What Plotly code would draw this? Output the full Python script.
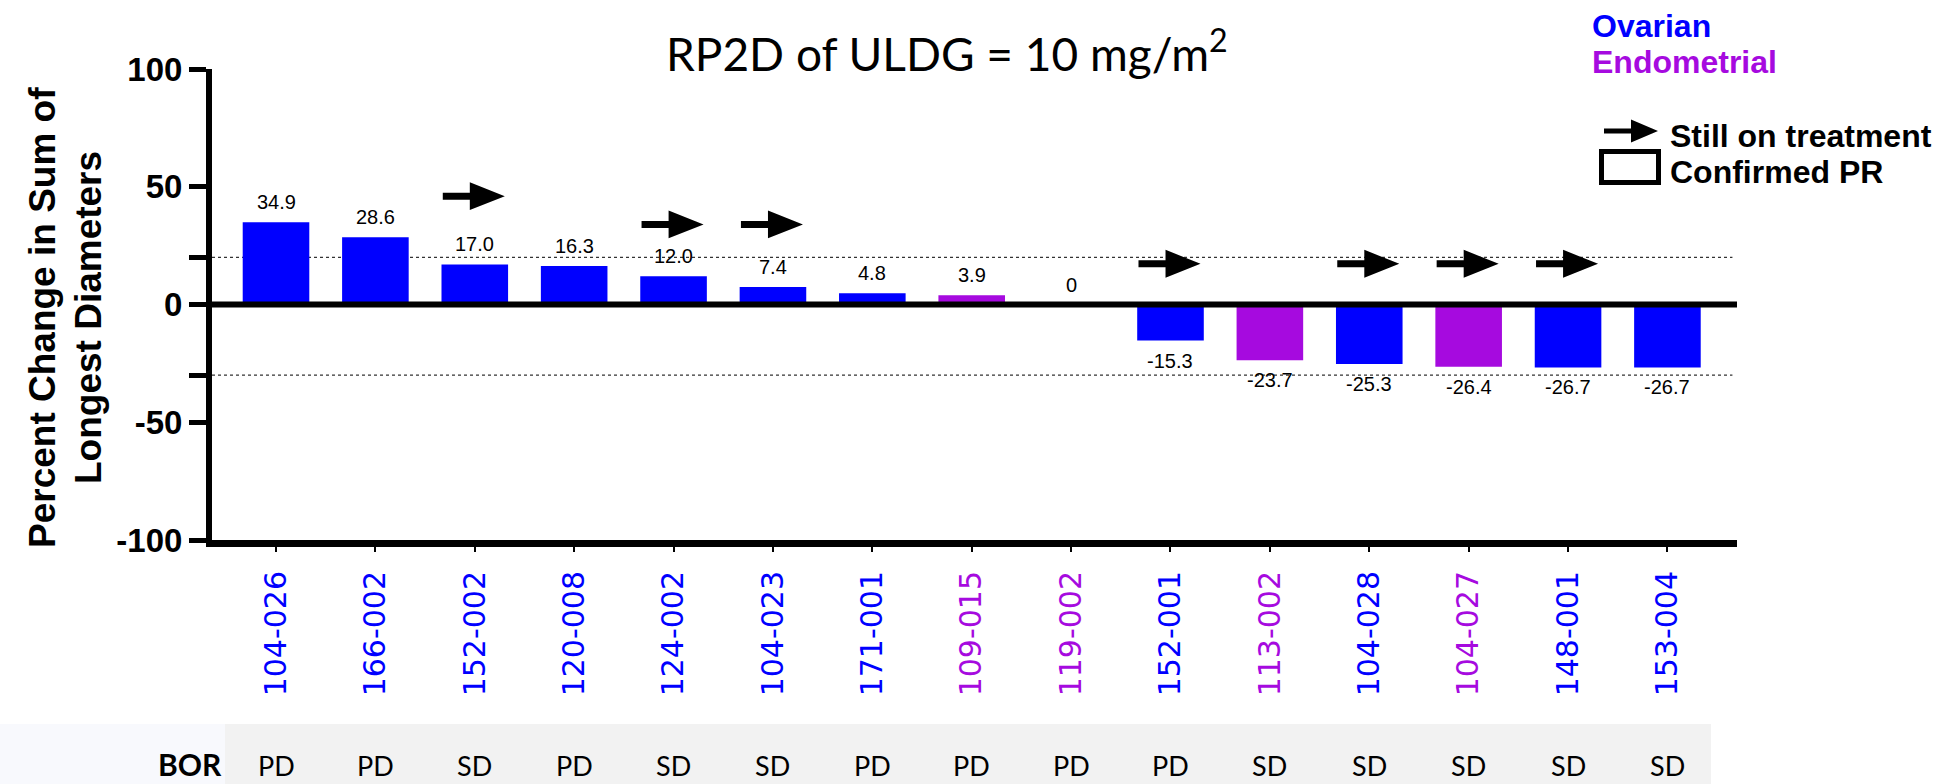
import plotly.graph_objects as go

# ---- data -------------------------------------------------------------
subjects = ["104-026", "166-002", "152-002", "120-008", "124-002", "104-023",
            "171-001", "109-015", "119-002", "152-001", "113-002", "104-028",
            "104-027", "148-001", "153-004"]
pct_change = [34.9, 28.6, 17.0, 16.3, 12.0, 7.4, 4.8, 3.9, 0,
              -15.3, -23.7, -25.3, -26.4, -26.7, -26.7]
tumor_type = ["Ovarian", "Ovarian", "Ovarian", "Ovarian", "Ovarian", "Ovarian",
              "Ovarian", "Endometrial", "Endometrial", "Ovarian", "Endometrial",
              "Ovarian", "Endometrial", "Ovarian", "Ovarian"]
bor = ["PD", "PD", "SD", "PD", "SD", "SD", "PD", "PD", "PD", "PD",
       "SD", "SD", "SD", "SD", "SD"]
# subjects still on treatment and the height at which their arrow sits
on_treatment = ["152-002", "124-002", "104-023", "152-001", "104-028", "104-027", "148-001"]
arrow_level = [46, 34, 34, 17.3, 17.3, 17.3, 17.3]
pd_threshold = 20
pr_threshold = -30
y_ticks = [100, 50, 0, -50, -100]
y_tick_text = ["100", "50", "0", "-50", "-100"]
y_minor_ticks = [pd_threshold, pr_threshold]

type_colors = {"Ovarian": "#0000FF", "Endometrial": "#A60ADF"}

# ---- page geometry ----------------------------------------------------
W, H = 1939, 784
L, R, T, B = 212, 1737, 69, 540
X_RANGE = [-0.644, 14.70]


def px_x(px):
    return (px - L) / (R - L)


def px_y(py):
    return (B - py) / (B - T)


idx = list(range(len(subjects)))
colors = [type_colors[t] for t in tumor_type]

fig = go.Figure()

fig.add_trace(go.Bar(
    x=idx, y=pct_change, width=0.67,
    marker=dict(color=colors, line=dict(width=0)),
    hoverinfo="skip",
))

# "still on treatment" arrows: shaft + triangular head, one polygon each
ax, ay = [], []
for sid, lvl in zip(on_treatment, arrow_level):
    i = subjects.index(sid)
    pts = [(-0.322, -1.5), (-0.05, -1.5), (-0.05, -5.9), (0.302, 0),
           (-0.05, 5.9), (-0.05, 1.5), (-0.322, 1.5), (-0.322, -1.5)]
    for dx, dy in pts:
        ax.append(i + dx)
        ay.append(lvl + dy)
    ax.append(None)
    ay.append(None)
fig.add_trace(go.Scatter(
    x=ax, y=ay, mode="lines", fill="toself", fillcolor="black",
    line=dict(color="black", width=0), hoverinfo="skip",
))

annotations = []

# value labels above / below each bar
for i, v in zip(idx, pct_change):
    txt = "0" if v == 0 else f"{v:.1f}"
    annotations.append(dict(
        x=i, y=v, xref="x", yref="y", text=txt, showarrow=False,
        yanchor="middle", yshift=20 if v >= 0 else -20,
        font=dict(family="Liberation Sans, Arial", size=20, color="black"),
    ))

# best overall response row
for i, r in zip(idx, bor):
    annotations.append(dict(
        x=i, y=px_y(765), xref="x", yref="paper", text=r, showarrow=False,
        yanchor="middle",
        font=dict(family="Lato", size=27, color="black"),
    ))
annotations.append(dict(
    x=px_x(224), y=px_y(764), xref="paper", yref="paper", text="<b>BOR</b>",
    showarrow=False, xanchor="right", yanchor="middle",
    font=dict(family="Lato", size=30, color="black"),
))

# title
annotations.append(dict(
    x=px_x(947), y=px_y(50), xref="paper", yref="paper",
    text="RP2D of ULDG = 10 mg/m<sup>2</sup>", showarrow=False,
    xanchor="center", yanchor="middle",
    font=dict(family="Lato", size=46, color="black"),
))

# y-axis title, two lines
for line, cx in [("Percent Change in Sum of", 42), ("Longest Diameters", 88)]:
    annotations.append(dict(
        x=px_x(cx), y=px_y(318), xref="paper", yref="paper",
        text=f"<b>{line}</b>", showarrow=False, textangle=-90,
        xanchor="center", yanchor="middle",
        font=dict(family="Liberation Sans, Arial", size=37, color="black"),
    ))

# legend texts
legend_font = dict(family="Liberation Sans, Arial", size=32)
for text, col, cy, lx in [("Ovarian", type_colors["Ovarian"], 26, 1590),
                          ("Endometrial", type_colors["Endometrial"], 62, 1590),
                          ("Still on treatment", "black", 136, 1668),
                          ("Confirmed PR", "black", 172, 1668)]:
    annotations.append(dict(
        x=px_x(lx), y=px_y(cy), xref="paper", yref="paper",
        text=f"<b>{text}</b>", showarrow=False,
        xanchor="left", yanchor="middle",
        font=dict(color=col, **legend_font),
    ))

shapes = [
    # BOR row background
    dict(type="rect", xref="paper", yref="paper",
         x0=px_x(0), x1=px_x(225), y0=px_y(724), y1=px_y(784),
         fillcolor="#F8F9FD", line=dict(width=0), layer="below"),
    dict(type="rect", xref="paper", yref="paper",
         x0=px_x(225), x1=px_x(1711), y0=px_y(724), y1=px_y(784),
         fillcolor="#F2F2F2", line=dict(width=0), layer="below"),
    # PD / PR threshold lines
    dict(type="line", xref="paper", yref="y", x0=0, x1=0.997,
         y0=pd_threshold, y1=pd_threshold,
         line=dict(color="#333333", width=1.2, dash="dot"), layer="below"),
    dict(type="line", xref="paper", yref="y", x0=0, x1=0.997,
         y0=pr_threshold, y1=pr_threshold,
         line=dict(color="#333333", width=1.2, dash="dot"), layer="below"),
    # zero baseline
    dict(type="line", xref="paper", yref="y", x0=0, x1=1, y0=0, y1=0,
         line=dict(color="black", width=6), layer="above"),
]

# legend glyphs: arrow and open box
cy = 131
arrow_path = (f"M{px_x(1604)},{px_y(cy - 2.5)} L{px_x(1631)},{px_y(cy - 2.5)} "
              f"L{px_x(1631)},{px_y(cy - 11.5)} L{px_x(1658)},{px_y(cy)} "
              f"L{px_x(1631)},{px_y(cy + 11.5)} L{px_x(1631)},{px_y(cy + 2.5)} "
              f"L{px_x(1604)},{px_y(cy + 2.5)} Z")
shapes.append(dict(type="path", xref="paper", yref="paper", path=arrow_path,
                   fillcolor="black", line=dict(width=0)))
shapes.append(dict(type="rect", xref="paper", yref="paper",
                   x0=px_x(1601.5), x1=px_x(1658.5),
                   y0=px_y(182.5), y1=px_y(151.5),
                   fillcolor="white", line=dict(color="black", width=5)))

tick_text = [f"<span style='color:{type_colors[t]}'>{s}</span>"
             for s, t in zip(subjects, tumor_type)]

fig.update_layout(
    width=W, height=H,
    margin=dict(l=L, r=W - R, t=T, b=H - B, pad=0),
    paper_bgcolor="white", plot_bgcolor="white",
    showlegend=False,
    annotations=annotations,
    shapes=shapes,
    xaxis=dict(
        range=X_RANGE, tickvals=idx, ticktext=tick_text, tickangle=-90,
        showline=True, linewidth=7, linecolor="black",
        ticks="outside", ticklen=5, tickwidth=2, tickcolor="black",
        ticklabelstandoff=7,
        tickfont=dict(family="DejaVu Sans", size=30),
        showgrid=False, zeroline=False, fixedrange=True,
    ),
    yaxis=dict(
        range=[-100, 100], tickvals=y_ticks, ticktext=y_tick_text,
        showline=True, linewidth=6, linecolor="black",
        ticks="outside", ticklen=17, tickwidth=5, tickcolor="black",
        minor=dict(tickmode="array", tickvals=y_minor_ticks, ticks="outside",
                   ticklen=17, tickwidth=5, tickcolor="black", showgrid=False),
        tickfont=dict(family="Liberation Sans, Arial", size=33,
                      color="black", weight="bold"),
        showgrid=False, zeroline=False, fixedrange=True,
    ),
)

fig.write_html("out.html")
